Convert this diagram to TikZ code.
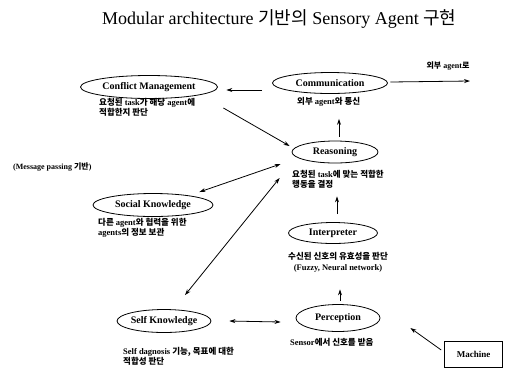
\documentclass[tikz,border=0pt]{standalone}
\usepackage{fontspec}
\setmainfont{Liberation Serif}
\newfontfamily\krf{Noto Sans CJK KR}
\newcommand{\hk}[1]{{\krf #1}}
\usetikzlibrary{arrows.meta,calc,shapes.geometric}
\begin{document}
\begin{tikzpicture}[x=1pt,y=1pt,
  mod/.style={draw,ellipse,line width=0.8pt,inner sep=0pt,font=\fontsize{10}{12}\selectfont\bfseries},
  desc/.style={anchor=north west,inner sep=0pt,align=left,font=\fontsize{8.5}{10.5}\selectfont\bfseries},
  arr/.style={line width=0.8pt,-{Stealth[length=6pt,width=4pt]}},
  darr/.style={line width=0.8pt,{Stealth[length=6pt,width=4pt]}-{Stealth[length=6pt,width=4pt]}}]
\fill[white] (0,0) rectangle (510,-368);
\useasboundingbox (0,0) rectangle (510,-368);

% title
\node[anchor=west,inner sep=0pt,font=\fontsize{18}{20}\selectfont] (title) at (102,-19)
  {Modular architecture \hk{기반의} Sensory Agent \hk{구현}};

% modules
\node[mod,minimum width=137pt,minimum height=23pt] (conf) at (149,-87) {Conflict Management};
\node[mod,minimum width=115pt,minimum height=21pt] (comm) at (330,-83) {Communication};
\node[mod,minimum width=86pt,minimum height=22pt] (reas) at (335,-152) {Reasoning};
\node[mod,minimum width=120pt,minimum height=23pt] (soc) at (153,-205) {Social Knowledge};
\node[mod,minimum width=89pt,minimum height=21pt] (interp) at (333,-233) {Interpreter};
\node[mod,minimum width=84pt,minimum height=27pt] (percep) at (338,-318) {Perception};
\node[mod,minimum width=86pt,minimum height=23pt] (self) at (164,-321) {Self Knowledge};
\node[draw,line width=0.6pt,minimum width=58pt,minimum height=26pt,inner sep=0pt,
  font=\fontsize{9}{11}\selectfont\bfseries] (mach) at (473.5,-354) {Machine};

% descriptions
\node[desc] (confd) at (99,-98) {\hk{요청된} task\hk{가 해당} agent\hk{에}\\\hk{적합한지 판단}};
\node[desc] (commd) at (297,-97) {\hk{외부} agent\hk{와 통신}};
\node[desc] (reasd) at (292,-170) {\hk{요청된} task\hk{에 맞는 적합한}\\\hk{행동을 결정}};
\node[desc] (socd) at (98,-218) {\hk{다른} agent\hk{와 협력을 위한}\\agents\hk{의 정보 보관}};
\node[desc,align=center] (interpd) at (288,-252) {\hk{수신된 신호의 유효성을 판단}\\[1pt](Fuzzy, Neural network)};
\node[desc] (percepd) at (290,-338) {Sensor\hk{에서 신호를 받음}};
\node[desc] (selfd) at (123,-347) {Self dagnosis \hk{기능, 목표에 대한}\\\hk{적합성 판단}};
\node[desc,font=\fontsize{8}{10}\selectfont\bfseries] (msg) at (13,-163) {(Message passing \hk{기반})};
\node[anchor=center,inner sep=0pt,font=\fontsize{8}{10}\selectfont\bfseries] (extl) at (448,-66) {\hk{외부} agent\hk{로}};
\coordinate (ext) at (470,-81);

% connectors
\draw[arr] ($(comm.west)+(-10,-7)$) -- ($(conf.east)+(8.5,-3)$);
\draw[arr] ($(comm.east)+(2.5,1)$) -- (ext);
\draw[arr] ($(conf.east)+(5.5,-21)$) -- ($(reas.west)+(-2,6)$);
\draw[arr] ($(reas.north)+(4,4)$) -- ($(comm.south)+(9,-25)$);
\draw[darr] ($(soc.east)+(-14,13)$) -- ($(reas.west)+(-11,-12)$);
\draw[darr] ($(self.north)+(21,14)$) -- ($(reas.west)+(-12,-26)$);
\draw[arr] ($(interp.north)+(4,8)$) -- ($(reas.south)+(2,-33)$);
\draw[arr] ($(percep.north)+(2,3.5)$) -- ($(interp.south)+(7,-45.5)$);
\draw[darr] ($(self.east)+(18,0)$) -- ($(percep.west)+(-15,-4)$);
\draw[arr] ($(mach.west)+(-3,4)$) -- ($(percep.east)+(30,-10)$);
\end{tikzpicture}
\end{document}
